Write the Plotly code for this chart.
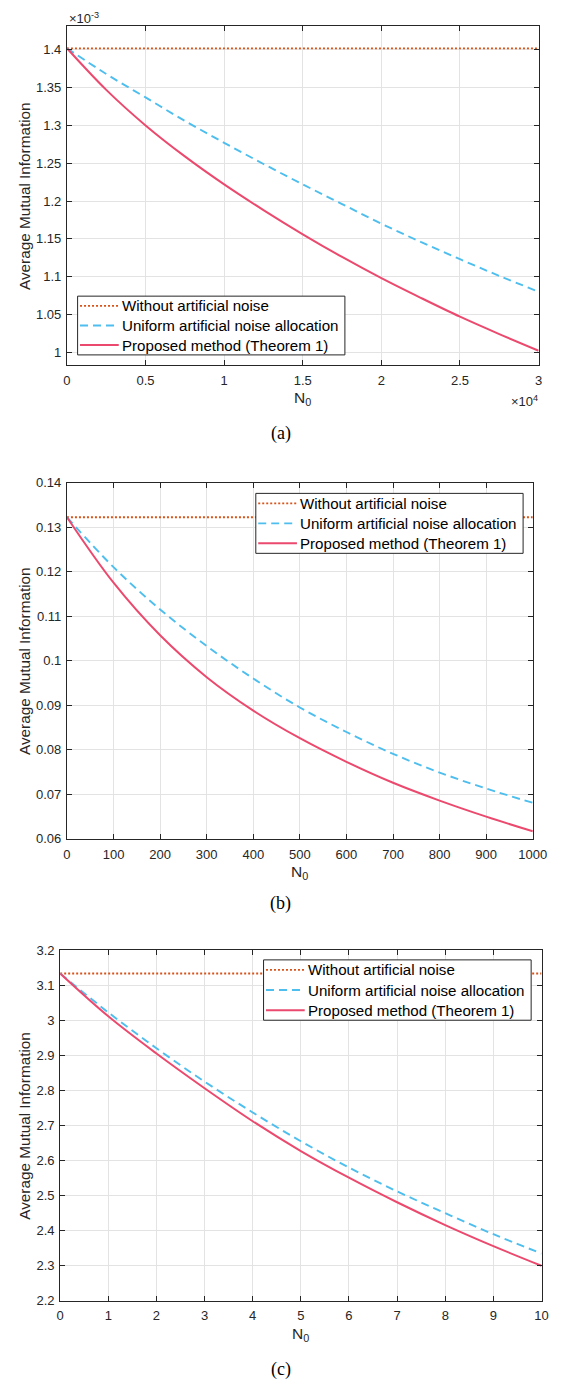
import plotly.graph_objects as go

# ---------------- data ----------------
# Panel (a): x in units of 1e4, y in units of 1e-3
xa = [0, 0.25, 0.5, 0.75, 1.0, 1.25, 1.5, 1.75, 2.0, 2.25, 2.5, 2.75, 3.0]
a_without = [1.402] * len(xa)
a_uniform = [1.402, 1.368, 1.337, 1.306, 1.277, 1.249, 1.222, 1.196, 1.170, 1.146, 1.123, 1.101, 1.080]
a_proposed = [1.402, 1.347, 1.300, 1.259, 1.222, 1.188, 1.156, 1.126, 1.098, 1.072, 1.047, 1.024, 1.002]

# Panel (b)
xb = [0, 100, 200, 300, 400, 500, 600, 700, 800, 900, 1000]
b_without = [0.1322] * len(xb)
b_uniform = [0.1322, 0.1210, 0.1115, 0.1033, 0.0960, 0.0895, 0.0840, 0.0791, 0.0749, 0.0713, 0.0681]
b_proposed = [0.1322, 0.1175, 0.1057, 0.0963, 0.0888, 0.0826, 0.0773, 0.0726, 0.0686, 0.0650, 0.0617]

# Panel (c)
xc = [0, 1, 2, 3, 4, 5, 6, 7, 8, 9, 10]
c_without = [3.133] * len(xc)
c_uniform = [3.133, 3.022, 2.920, 2.825, 2.737, 2.655, 2.580, 2.512, 2.450, 2.390, 2.335]
c_proposed = [3.133, 3.011, 2.905, 2.806, 2.712, 2.627, 2.551, 2.481, 2.416, 2.356, 2.300]

series_names = ["Without artificial noise", "Uniform artificial noise allocation", "Proposed method (Theorem 1)"]

# tick labels
a_xticks = [0, 0.5, 1, 1.5, 2, 2.5, 3]
a_xtext = ["0", "0.5", "1", "1.5", "2", "2.5", "3"]
a_yticks = [1, 1.05, 1.1, 1.15, 1.2, 1.25, 1.3, 1.35, 1.4]
a_ytext = ["1", "1.05", "1.1", "1.15", "1.2", "1.25", "1.3", "1.35", "1.4"]
b_xticks = [0, 100, 200, 300, 400, 500, 600, 700, 800, 900, 1000]
b_xtext = ["0", "100", "200", "300", "400", "500", "600", "700", "800", "900", "1000"]
b_yticks = [0.06, 0.07, 0.08, 0.09, 0.10, 0.11, 0.12, 0.13, 0.14]
b_ytext = ["0.06", "0.07", "0.08", "0.09", "0.1", "0.11", "0.12", "0.13", "0.14"]
c_xticks = [0, 1, 2, 3, 4, 5, 6, 7, 8, 9, 10]
c_xtext = ["0", "1", "2", "3", "4", "5", "6", "7", "8", "9", "10"]
c_yticks = [2.2, 2.3, 2.4, 2.5, 2.6, 2.7, 2.8, 2.9, 3.0, 3.1, 3.2]
c_ytext = ["2.2", "2.3", "2.4", "2.5", "2.6", "2.7", "2.8", "2.9", "3", "3.1", "3.2"]

captions = ["(a)", "(b)", "(c)"]

# ---------------- style ----------------
W, H = 571, 1388
FONT = "Liberation Sans, Arial, Helvetica, sans-serif"
SERIF = "Liberation Serif, Times New Roman, serif"
INK = "#262626"
GRID = "#E3E3E3"
COLORS = ["#D95319", "#4DBEEE", "#EB4A6E"]
DASHES = ["2px,2px", "8px,5px", "solid"]
WIDTHS = [1.8, 1.9, 2.0]


def px_x(p):
    return p / W


def px_y(p):
    return 1 - p / H


# panel boxes in pixels: (left, right, top, bottom)
boxes = [(65, 552, 19.5, 362), (65, 546, 480.7, 841), (58, 555, 953.3, 1308)]
ranges = [([0, 3], [0.983, 1.4311]), ([0, 1000], [0.06, 0.14]), ([0, 10], [2.2, 3.2])]
ticks = [(a_xticks, a_xtext, a_yticks, a_ytext), (b_xticks, b_xtext, b_yticks, b_ytext),
         (c_xticks, c_xtext, c_yticks, c_ytext)]
data = [(xa, a_without, a_uniform, a_proposed), (xb, b_without, b_uniform, b_proposed),
        (xc, c_without, c_uniform, c_proposed)]
# legend boxes: (left, right, top, bottom)
legend_boxes = [(76, 352, 292.3, 351.7), (260, 536, 491.7, 552.3), (268, 544.3, 963.3, 1024.3)]
caption_y = [431, 906, 1377]

fig = go.Figure()
layout = dict(width=W, height=H, margin=dict(l=0, r=0, t=0, b=0),
              paper_bgcolor="white", plot_bgcolor="white", showlegend=False,
              font=dict(family=FONT, color=INK, size=13))
annotations = []
shapes = []

for i in range(3):
    l, r, t, b = boxes[i]
    xr, yr = ranges[i]
    xt, xtt, yt, ytt = ticks[i]
    x = data[i][0]
    ys = data[i][1:]
    suffix = "" if i == 0 else str(i + 1)
    xname, yname = "x" + suffix, "y" + suffix
    axis_common = dict(showline=True, linecolor=INK, linewidth=1, mirror="ticks",
                       ticks="inside", ticklen=5, tickcolor=INK, tickwidth=1,
                       showgrid=True, gridcolor=GRID, gridwidth=1, zeroline=False,
                       tickfont=dict(family=FONT, size=13, color=INK))
    layout["xaxis" + suffix] = dict(axis_common, domain=[px_x(l), px_x(r)], range=xr,
                                    tickmode="array", tickvals=xt, ticktext=xtt,
                                    anchor=yname, ticklabelstandoff=3)
    layout["yaxis" + suffix] = dict(axis_common, domain=[px_y(b), px_y(t)], range=yr,
                                    tickmode="array", tickvals=yt, ticktext=ytt,
                                    anchor=xname, ticklabelstandoff=2)
    for k in range(3):
        fig.add_trace(go.Scatter(x=x, y=ys[k], mode="lines", name=series_names[k],
                                 line_shape="linear" if k == 0 else "spline",
                                 line=dict(color=COLORS[k], width=WIDTHS[k], dash=DASHES[k]),
                                 xaxis=xname, yaxis=yname))

    # legend drawn as a framed box with sample lines and labels
    ll, lr, lt, lb = legend_boxes[i]
    shapes.append(dict(type="rect", xref="paper", yref="paper",
                       x0=px_x(ll), x1=px_x(lr), y0=px_y(lb), y1=px_y(lt),
                       line=dict(color=INK, width=1), fillcolor="white", layer="above"))
    row_h = (lb - lt) / 3.0
    for k in range(3):
        yy = lt + row_h * (k + 0.5)
        shapes.append(dict(type="line", xref="paper", yref="paper",
                           x0=px_x(ll + 2.5), x1=px_x(ll + 42.5), y0=px_y(yy), y1=px_y(yy),
                           line=dict(color=COLORS[k], width=WIDTHS[k], dash=DASHES[k]),
                           layer="above"))
        annotations.append(dict(text=series_names[k], x=px_x(ll + 44.5), y=px_y(yy),
                                xref="paper", yref="paper", showarrow=False,
                                xanchor="left", yanchor="middle", borderpad=0,
                                font=dict(family=FONT, size=15.1, color="#000000")))

    # axis titles
    annotations.append(dict(text="Average Mutual Information", x=px_x(21), y=px_y((t + b) / 2),
                            xref="paper", yref="paper", textangle=-90, showarrow=False,
                            xanchor="center", yanchor="middle",
                            font=dict(family=FONT, size=15.3, color=INK)))
    annotations.append(dict(text="N<sub>0</sub>", x=px_x((l + r) / 2), y=px_y(b + 34),
                            xref="paper", yref="paper", showarrow=False,
                            xanchor="center", yanchor="middle",
                            font=dict(family=FONT, size=15.5, color=INK)))
    annotations.append(dict(text=captions[i], x=px_x(W / 2), y=px_y(caption_y[i]),
                            xref="paper", yref="paper", showarrow=False,
                            xanchor="center", yanchor="middle",
                            font=dict(family=SERIF, size=18, color="#000000")))

# exponent labels for panel (a)
annotations.append(dict(text="×10<sup>-3</sup>", x=px_x(65), y=px_y(1), xref="paper", yref="paper",
                        showarrow=False, xanchor="left", yanchor="top",
                        font=dict(family=FONT, size=13, color=INK)))
annotations.append(dict(text="×10<sup>4</sup>", x=px_x(553), y=px_y(388), xref="paper", yref="paper",
                        showarrow=False, xanchor="right", yanchor="top",
                        font=dict(family=FONT, size=13, color=INK)))

layout["annotations"] = annotations
layout["shapes"] = shapes
fig.update_layout(**layout)
fig.write_html("out.html")
